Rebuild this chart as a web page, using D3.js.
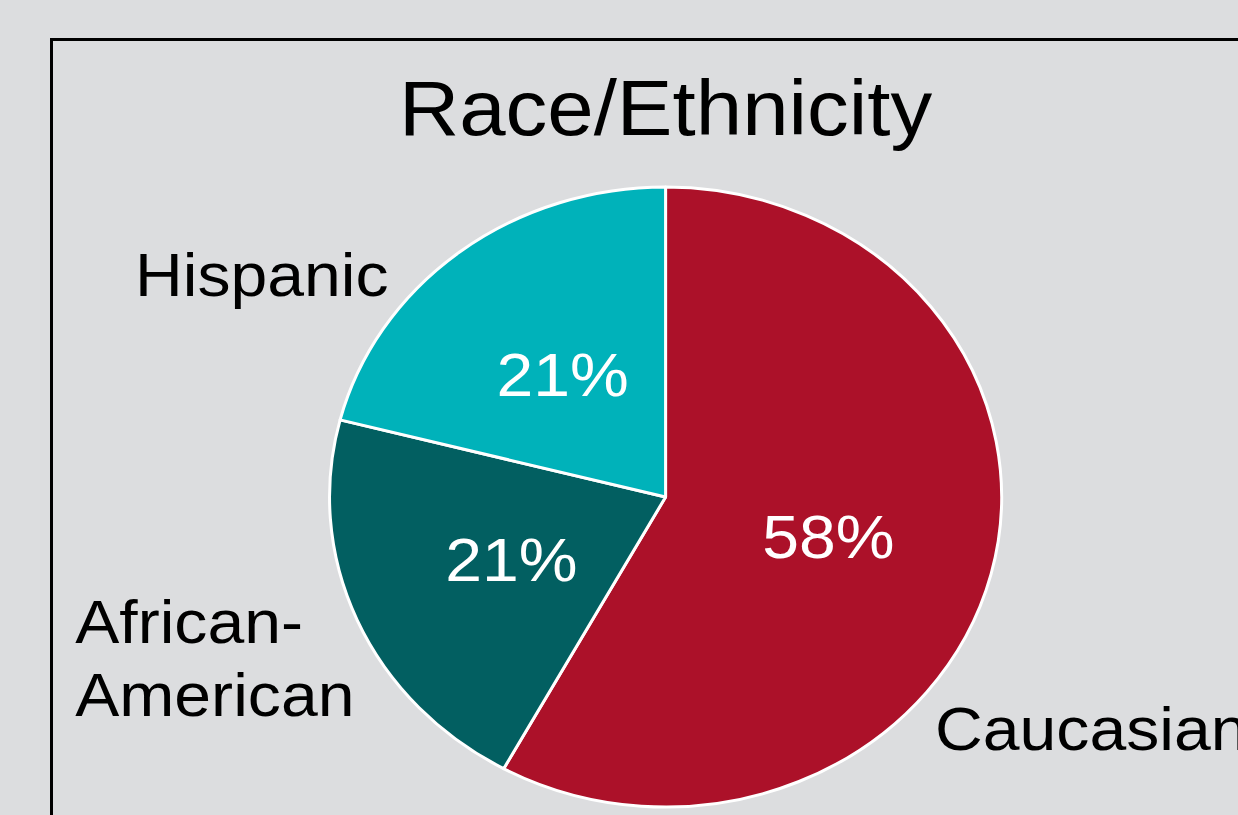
<!DOCTYPE html>
<html>
<head>
<meta charset="utf-8">
<title>Race/Ethnicity</title>
<script src="https://d3js.org/d3.v7.min.js"></script>
<style>
body {margin:0; background:#dcdddf; overflow:hidden;}
svg text {font-family:"Liberation Sans", Arial, sans-serif;}
</style>
</head>
<body>
<svg id="chart" width="1238" height="815"></svg>
<script>
// data
var categories = ["Caucasian", "African-American", "Hispanic"];
var values = [58, 21, 21];
var outerLabels = [["Caucasian"], ["African-", "American"], ["Hispanic"]];
var colors = ["#ac1129", "#025f61", "#00b2ba"];
var title = "Race/Ethnicity";

var width = 1238;
var height = 815;
var stretch = 1.084;   // the original slide is slightly wider than tall
var cx = 614, cy = 497, radius = 310;
// where each outer label starts, in units of the radius from the centre
var labelPos = [[0.802, 0.816], [-1.757, 0.471], [-1.579, -0.648]];

var svg = d3.select("#chart");

svg.append("rect")
  .attr("width", width).attr("height", height)
  .attr("fill", "#dcdddf");

// frame, runs off the right and bottom edges
svg.append("rect")
  .attr("x", 51.5).attr("y", 39.5)
  .attr("width", width).attr("height", height)
  .attr("fill", "#dcdddf")
  .attr("stroke", "#000").attr("stroke-width", 3);

var g = svg.append("g").attr("transform", "scale(" + stretch + ",1)");

g.append("text")
  .attr("x", cx).attr("y", 135)
  .attr("text-anchor", "middle")
  .style("font-size", "77px")
  .attr("fill", "#000")
  .text(title);

var data = categories.map(function(c, i) { return {name: c, value: values[i], i: i}; });

var pie = d3.pie().sort(null).value(function(d) { return d.value; });
var arc = d3.arc().innerRadius(0).outerRadius(radius);
var arcs = pie(data);

var pg = g.append("g").attr("transform", "translate(" + cx + "," + cy + ")");

pg.selectAll("path")
  .data(arcs)
  .enter()
  .append("path")
  .attr("d", arc)
  .attr("fill", function(d) { return colors[d.data.i]; })
  .attr("stroke", "#fff")
  .attr("stroke-width", 3)
  .attr("stroke-linejoin", "round")
  .attr("vector-effect", "non-scaling-stroke");

pg.selectAll("text.pct")
  .data(arcs)
  .enter()
  .append("text")
  .attr("class", "pct")
  .attr("transform", function(d) { return "translate(" + arc.centroid(d) + ")"; })
  .attr("text-anchor", "middle")
  .attr("dy", "0.36em")
  .style("font-size", "61px")
  .attr("fill", "#fff")
  .text(function(d) { return d.data.value + "%"; });

var lab = pg.selectAll("text.lab")
  .data(arcs)
  .enter()
  .append("text")
  .attr("class", "lab")
  .attr("x", function(d) { return labelPos[d.data.i][0] * radius; })
  .attr("y", function(d) { return labelPos[d.data.i][1] * radius; })
  .style("font-size", "61px")
  .attr("fill", "#000");

lab.selectAll("tspan")
  .data(function(d) { return outerLabels[d.data.i].map(function(t) { return {t: t, x: labelPos[d.data.i][0] * radius}; }); })
  .enter()
  .append("tspan")
  .attr("x", function(d) { return d.x; })
  .attr("dy", function(d, k) { return k == 0 ? 0 : 73; })
  .text(function(d) { return d.t; });
</script>
</body>
</html>
